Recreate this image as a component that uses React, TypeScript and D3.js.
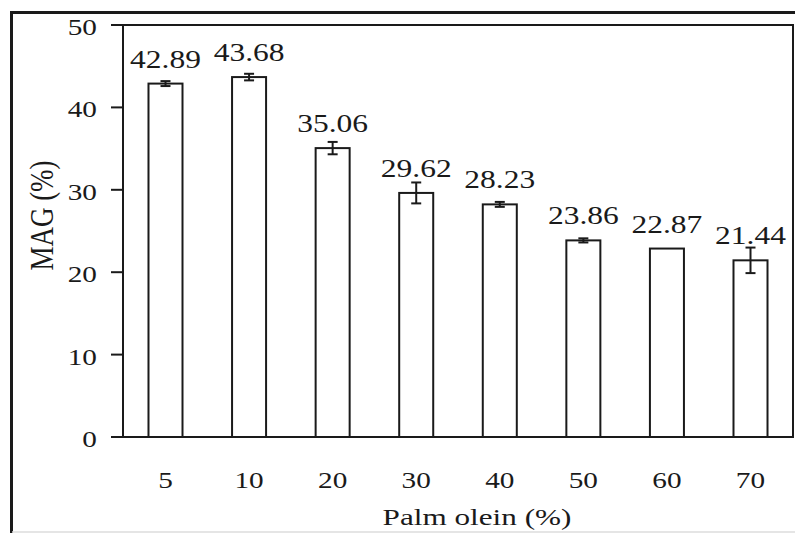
import React from "react";
import * as d3 from "d3";

// Palm olein content (%) on the x axis
const categories: string[] = ["5", "10", "20", "30", "40", "50", "60", "70"];
// MAG yield (%) per blend
const magValues: number[] = [42.89, 43.68, 35.06, 29.62, 28.23, 23.86, 22.87, 21.44];
// Standard deviation of each mean
const magErrors: number[] = [0.3, 0.4, 0.75, 1.27, 0.3, 0.25, 0, 1.55];
// Y axis ticks
const yTicks: number[] = [0, 10, 20, 30, 40, 50];

const W = 795;
const H = 533;
const plot = { left: 123, right: 793, top: 25, bottom: 437 };
const FONT = "'Liberation Serif', 'Times New Roman', serif";
const INK = "#1a1a1a";
const STRETCH = 1.25;

const x = d3
  .scaleBand<string>()
  .domain(categories)
  .range([plot.left, plot.right])
  .paddingInner(0.593)
  .paddingOuter(0.305);

const y = d3.scaleLinear().domain([0, 50]).range([plot.bottom, plot.top]);

// Text drawn with a wide horizontal stretch, like the typeset figure
function WideText(props: {
  x: number;
  y: number;
  size: number;
  anchor?: "start" | "middle" | "end";
  rotate?: number;
  sx?: number;
  children: React.ReactNode;
}) {
  const { size, anchor = "middle", rotate = 0, sx = STRETCH } = props;
  return (
    <g transform={`translate(${props.x},${props.y}) scale(${sx},1) rotate(${rotate})`}>
      <text
        x={0}
        y={0}
        fontFamily={FONT}
        fontSize={size}
        textAnchor={anchor}
        fill={INK}
      >
        {props.children}
      </text>
    </g>
  );
}

export default function App() {
  const bw = x.bandwidth();
  const cap = 5;
  return (
    <svg
      width={W}
      height={H}
      viewBox={`0 0 ${W} ${H}`}
      style={{ position: "absolute", left: 0, top: 0, background: "#fff" }}
    >
      <rect x={0} y={0} width={W} height={H} fill="#fff" />

      {/* outer figure frame */}
      <line x1={11.5} y1={12.5} x2={W} y2={12.5} stroke={INK} strokeWidth={3} />
      <line x1={11.5} y1={11} x2={11.5} y2={H} stroke={INK} strokeWidth={3} />
      <line x1={12} y1={532} x2={W} y2={532} stroke="#ddd" strokeWidth={1.5} />

      {/* plot box */}
      <rect
        x={plot.left}
        y={plot.top}
        width={plot.right - plot.left}
        height={plot.bottom - plot.top}
        fill="none"
        stroke={INK}
        strokeWidth={2}
      />

      {/* y ticks and labels */}
      {yTicks.map((t) => (
        <g key={`yt-${t}`}>
          <line x1={plot.left - 12} x2={plot.left} y1={y(t)} y2={y(t)} stroke={INK} strokeWidth={2} />
          <WideText x={97} y={y(t) + 10} size={24} anchor="end" sx={1.22}>
            {t}
          </WideText>
        </g>
      ))}

      {/* bars */}
      {categories.map((c, i) => {
        const x0 = x(c) as number;
        const v = magValues[i];
        return (
          <rect
            key={`bar-${c}`}
            x={x0}
            y={y(v)}
            width={bw}
            height={y(0) - y(v)}
            fill="#fff"
            stroke={INK}
            strokeWidth={2}
          />
        );
      })}

      {/* error bars */}
      {categories.map((c, i) => {
        const e = magErrors[i];
        if (e <= 0) return null;
        const cx = (x(c) as number) + bw / 2;
        const hi = y(magValues[i] + e);
        const lo = y(magValues[i] - e);
        return (
          <g key={`err-${c}`} stroke={INK} strokeWidth={2}>
            <line x1={cx} x2={cx} y1={hi} y2={lo} />
            <line x1={cx - cap} x2={cx + cap} y1={hi} y2={hi} />
            <line x1={cx - cap} x2={cx + cap} y1={lo} y2={lo} />
          </g>
        );
      })}

      {/* value labels */}
      {categories.map((c, i) => (
        <WideText
          key={`val-${c}`}
          x={(x(c) as number) + bw / 2}
          y={y(magValues[i]) - 16}
          size={25}
          sx={1.26}
        >
          {magValues[i].toFixed(2)}
        </WideText>
      ))}

      {/* x tick labels */}
      {categories.map((c) => (
        <WideText key={`xl-${c}`} x={(x(c) as number) + bw / 2} y={488} size={24} sx={1.22}>
          {c}
        </WideText>
      ))}

      {/* axis titles */}
      <WideText x={53} y={215.5} size={27} rotate={-90} sx={1.23}>
        MAG (%)
      </WideText>
      <WideText x={477} y={525} size={24} sx={1.3}>
        Palm olein (%)
      </WideText>
    </svg>
  );
}
